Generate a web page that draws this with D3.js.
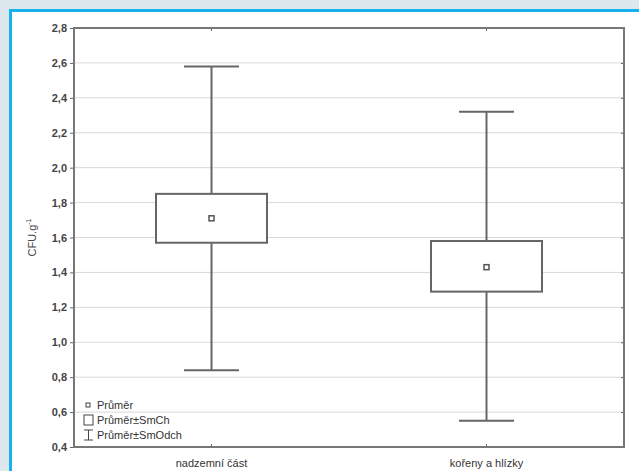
<!DOCTYPE html>
<html>
<head>
<meta charset="utf-8">
<script src="https://cdn.jsdelivr.net/npm/d3@7"></script>
<style>
  html, body { margin: 0; padding: 0; background: #dde8ee; }
  svg { display: block; font-family: "Liberation Sans", Arial, sans-serif; }
</style>
</head>
<body>
<div id="chart"></div>
<script>
// data
const categories = ["nadzemní část", "kořeny a hlízky"];
const means = [1.71, 1.43];
const seLow = [1.57, 1.29];
const seHigh = [1.85, 1.58];
const sdLow = [0.84, 0.55];
const sdHigh = [2.58, 2.32];
const yTicks = [0.4, 0.6, 0.8, 1.0, 1.2, 1.4, 1.6, 1.8, 2.0, 2.2, 2.4, 2.6, 2.8];
const legendLabels = ["Průměr", "Průměr±SmCh", "Průměr±SmOdch"];

// canvas
const width = 639, height = 471;
const margin = {top: 28, right: 15, bottom: 24, left: 74};
const innerW = width - margin.left - margin.right;
const innerH = height - margin.top - margin.bottom;

const svg = d3.select("#chart").append("svg")
  .attr("width", width)
  .attr("height", height);

// blue frame
svg.append("rect")
  .attr("x", 10.5).attr("y", 10.5)
  .attr("width", width + 10).attr("height", height + 10)
  .attr("fill", "#fff")
  .attr("stroke", "#16b2ee")
  .attr("stroke-width", 3);

const g = svg.append("g")
  .attr("transform", `translate(${margin.left}, ${margin.top})`);

// scales
const x = d3.scaleBand().domain(categories).range([0, innerW]);
const y = d3.scaleLinear().domain([0.4, 2.8]).range([innerH, 0]);

// grid
g.append("g")
  .selectAll("line")
  .data(yTicks.slice(1, -1))
  .join("line")
    .attr("x1", 0).attr("x2", innerW)
    .attr("y1", d => y(d)).attr("y2", d => y(d))
    .attr("stroke", "#d8d8d8")
    .attr("stroke-width", 1);

// axes
const fmt = d => d3.format(".1f")(d).replace(".", ",");
const yAxis = g.append("g")
  .call(d3.axisLeft(y).tickValues(yTicks).tickFormat(fmt).tickSize(4).tickPadding(3));
yAxis.select(".domain").remove();
yAxis.selectAll("line").attr("stroke", "#666");
yAxis.selectAll("text")
  .attr("fill", "#444")
  .attr("font-size", 11)
  .attr("font-weight", "bold");

const yRight = g.append("g")
  .attr("transform", `translate(${innerW}, 0)`)
  .call(d3.axisLeft(y).tickValues(yTicks).tickFormat("").tickSize(3));
yRight.select(".domain").remove();
yRight.selectAll("line").attr("stroke", "#666");

const xAxis = g.append("g")
  .attr("transform", `translate(0, ${innerH})`)
  .call(d3.axisBottom(x).tickSize(-3).tickPadding(12));
xAxis.select(".domain").remove();
xAxis.selectAll("line").attr("stroke", "#666");
xAxis.selectAll("text")
  .attr("fill", "#333")
  .attr("font-size", 11);

const xTop = g.append("g")
  .call(d3.axisTop(x).tickSize(-3).tickFormat(""));
xTop.select(".domain").remove();
xTop.selectAll("line").attr("stroke", "#666");

// plot frame
g.append("rect")
  .attr("width", innerW).attr("height", innerH)
  .attr("fill", "none")
  .attr("stroke", "#777")
  .attr("stroke-width", 2);

// y label
g.append("text")
  .attr("transform", `translate(-38, ${innerH / 2}) rotate(-90)`)
  .attr("text-anchor", "middle")
  .attr("fill", "#444")
  .attr("font-size", 11)
  .text("CFU.g")
  .append("tspan")
    .attr("dy", -5)
    .attr("font-size", 7)
    .text("-1");

// boxes
const boxW = 111, capW = 55;
const groups = g.selectAll(".grp")
  .data(categories)
  .join("g")
    .attr("class", "grp")
    .attr("transform", d => `translate(${x(d) + x.bandwidth() / 2}, 0)`);

groups.append("line")
  .attr("y1", (d, i) => y(sdHigh[i])).attr("y2", (d, i) => y(seHigh[i]))
  .attr("stroke", "#666").attr("stroke-width", 2);
groups.append("line")
  .attr("y1", (d, i) => y(seLow[i])).attr("y2", (d, i) => y(sdLow[i]))
  .attr("stroke", "#666").attr("stroke-width", 2);
groups.append("line")
  .attr("x1", -capW / 2).attr("x2", capW / 2)
  .attr("y1", (d, i) => y(sdHigh[i])).attr("y2", (d, i) => y(sdHigh[i]))
  .attr("stroke", "#666").attr("stroke-width", 2);
groups.append("line")
  .attr("x1", -capW / 2).attr("x2", capW / 2)
  .attr("y1", (d, i) => y(sdLow[i])).attr("y2", (d, i) => y(sdLow[i]))
  .attr("stroke", "#666").attr("stroke-width", 2);
groups.append("rect")
  .attr("x", -boxW / 2).attr("width", boxW)
  .attr("y", (d, i) => y(seHigh[i]))
  .attr("height", (d, i) => y(seLow[i]) - y(seHigh[i]))
  .attr("fill", "#fff")
  .attr("stroke", "#666").attr("stroke-width", 2);
groups.append("rect")
  .attr("x", -2.5).attr("width", 5)
  .attr("y", (d, i) => y(means[i]) - 2.5).attr("height", 5)
  .attr("fill", "#fff")
  .attr("stroke", "#555").attr("stroke-width", 1.5);

// legend
const legend = g.append("g").attr("transform", `translate(10, ${innerH - 42})`);
const rowH = 15;
legend.selectAll("text")
  .data(legendLabels)
  .join("text")
    .attr("x", 13)
    .attr("y", (d, i) => i * rowH)
    .attr("dy", "0.35em")
    .attr("fill", "#333")
    .attr("font-size", 11)
    .text(d => d);
legend.append("rect")
  .attr("x", 2).attr("y", -2).attr("width", 4).attr("height", 4)
  .attr("fill", "none").attr("stroke", "#444").attr("stroke-width", 1);
legend.append("rect")
  .attr("x", 0).attr("y", rowH - 5).attr("width", 9).attr("height", 10)
  .attr("fill", "none").attr("stroke", "#444").attr("stroke-width", 1);
legend.append("path")
  .attr("d", `M0,${2 * rowH - 5}H9M4.5,${2 * rowH - 5}V${2 * rowH + 5}M0,${2 * rowH + 5}H9`)
  .attr("fill", "none").attr("stroke", "#444").attr("stroke-width", 1);
</script>
</body>
</html>
